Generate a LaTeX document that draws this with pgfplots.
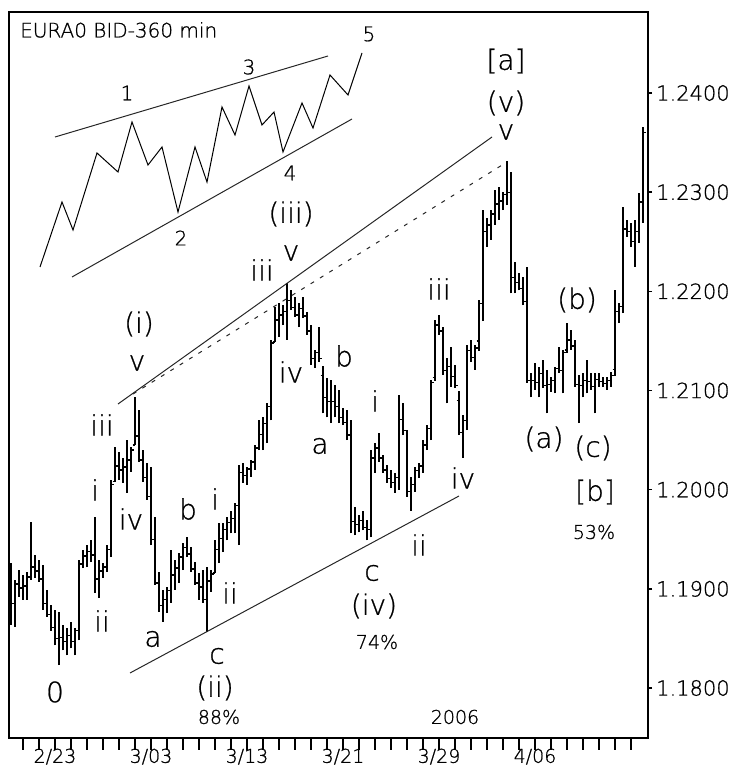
\documentclass[border=0pt]{standalone}
\usepackage{fontspec}
\usepackage{pgfplots}
\pgfplotsset{compat=1.18}
\usepackage{pgfplotstable}
\setmainfont{DejaVu Sans}
\IfFontExistsTF{DejaVu Sans ExtraLight}{\newfontfamily\lab{DejaVu Sans ExtraLight}[FakeBold=0.8]}{\newfontfamily\lab{DejaVu Sans}}
\newcommand\F[1]{\lab\fontsize{#1}{#1}\selectfont}
\pgfdeclareplotmark{otick}{\pgfpathmoveto{\pgfqpoint{-2.5pt}{0pt}}\pgfpathlineto{\pgfqpoint{0pt}{0pt}}\pgfusepathqstroke}
\pgfdeclareplotmark{ctick}{\pgfpathmoveto{\pgfqpoint{0pt}{0pt}}\pgfpathlineto{\pgfqpoint{2.5pt}{0pt}}\pgfusepathqstroke}

\pgfplotstableread{
i o h l c
0 1.1900 1.1926 1.1864 1.1885
1 1.1885 1.1909 1.1862 1.1905
2 1.1905 1.1919 1.1892 1.1901
3 1.1901 1.1914 1.1889 1.1903
4 1.1903 1.1917 1.1889 1.1912
5 1.1912 1.1967 1.1909 1.1922
6 1.1922 1.1934 1.1911 1.1918
7 1.1918 1.1929 1.1907 1.1910
8 1.1910 1.1924 1.1879 1.1885
9 1.1885 1.1899 1.1872 1.1874
10 1.1874 1.1884 1.1858 1.1861
11 1.1861 1.1879 1.1843 1.1850
12 1.1850 1.1877 1.1823 1.1851
13 1.1851 1.1864 1.1838 1.1847
14 1.1847 1.1861 1.1833 1.1853
15 1.1853 1.1867 1.1840 1.1847
16 1.1847 1.1861 1.1833 1.1858
17 1.1858 1.1929 1.1848 1.1925
18 1.1925 1.1939 1.1921 1.1933
19 1.1933 1.1944 1.1922 1.1938
20 1.1938 1.1949 1.1927 1.1934
21 1.1934 1.1972 1.1896 1.1910
22 1.1910 1.1929 1.1891 1.1918
23 1.1918 1.1926 1.1911 1.1922
24 1.1922 1.1944 1.1917 1.1940
25 1.1940 1.2010 1.1932 1.2005
26 1.2008 1.2043 1.2008 1.2024
27 1.2024 1.2038 1.2010 1.2020
28 1.2020 1.2032 1.2007 1.2023
29 1.2023 1.2050 1.1997 1.2030
30 1.2030 1.2043 1.2018 1.2040
31 1.2045 1.2093 1.2045 1.2054
32 1.2054 1.2080 1.2028 1.2030
33 1.2030 1.2040 1.2008 1.2012
34 1.2012 1.2027 1.1990 1.1993
35 1.1993 1.2023 1.1944 1.1950
36 1.1950 1.1972 1.1904 1.1906
37 1.1906 1.1917 1.1877 1.1883
38 1.1883 1.1899 1.1867 1.1889
39 1.1889 1.1902 1.1876 1.1898
40 1.1898 1.1939 1.1886 1.1914
41 1.1914 1.1929 1.1899 1.1921
42 1.1921 1.1936 1.1906 1.1932
43 1.1932 1.1946 1.1919 1.1942
44 1.1942 1.1952 1.1932 1.1935
45 1.1935 1.1942 1.1917 1.1920
46 1.1920 1.1927 1.1904 1.1906
47 1.1906 1.1916 1.1889 1.1902
48 1.1902 1.1919 1.1886 1.1889
49 1.1889 1.1922 1.1856 1.1908
50 1.1908 1.1919 1.1897 1.1915
51 1.1916 1.1949 1.1916 1.1940
52 1.1940 1.1966 1.1926 1.1951
53 1.1951 1.1966 1.1937 1.1960
54 1.1960 1.1972 1.1949 1.1967
55 1.1967 1.1979 1.1956 1.1971
56 1.1971 1.1987 1.1956 1.1984
57 1.1984 1.2025 1.1944 1.2017
58 1.2017 1.2027 1.2007 1.2014
59 1.2014 1.2023 1.2005 1.2021
60 1.2021 1.2030 1.2013 1.2028
61 1.2028 1.2045 1.2020 1.2042
62 1.2042 1.2070 1.2040 1.2056
63 1.2056 1.2073 1.2040 1.2067
64 1.2067 1.2087 1.2047 1.2084
65 1.2084 1.2151 1.2070 1.2148
66 1.2149 1.2184 1.2149 1.2171
67 1.2171 1.2188 1.2154 1.2176
68 1.2176 1.2186 1.2166 1.2180
69 1.2180 1.2208 1.2151 1.2191
70 1.2191 1.2201 1.2181 1.2184
71 1.2184 1.2194 1.2174 1.2176
72 1.2176 1.2188 1.2164 1.2183
73 1.2183 1.2194 1.2173 1.2175
74 1.2175 1.2179 1.2156 1.2160
75 1.2160 1.2166 1.2126 1.2132
76 1.2132 1.2141 1.2123 1.2138
77 1.2138 1.2164 1.2129 1.2132
78 1.2115 1.2125 1.2077 1.2093
79 1.2093 1.2113 1.2073 1.2089
80 1.2089 1.2111 1.2067 1.2089
81 1.2089 1.2106 1.2073 1.2084
82 1.2084 1.2101 1.2067 1.2073
83 1.2073 1.2082 1.2065 1.2068
84 1.2068 1.2080 1.2050 1.2055
85 1.2055 1.2070 1.1956 1.1968
86 1.1968 1.1983 1.1954 1.1965
87 1.1965 1.1974 1.1957 1.1969
88 1.1969 1.1979 1.1959 1.1962
89 1.1962 1.1969 1.1949 1.1960
90 1.1960 1.2040 1.1952 1.2032
91 1.2032 1.2047 1.2017 1.2042
92 1.2042 1.2057 1.2028 1.2032
93 1.2032 1.2035 1.2017 1.2020
94 1.2020 1.2025 1.2007 1.2011
95 1.2011 1.2020 1.2002 1.2007
96 1.2007 1.2017 1.1997 1.2012
97 1.2012 1.2095 1.2000 1.2071
98 1.2071 1.2087 1.2055 1.2060
99 1.2060 1.2060 1.1993 1.1998
100 1.1998 1.2013 1.1979 1.2005
101 1.2005 1.2023 1.1998 1.2019
102 1.2019 1.2027 1.2012 1.2024
103 1.2024 1.2050 1.2017 1.2045
104 1.2045 1.2065 1.2040 1.2062
105 1.2062 1.2111 1.2050 1.2108
106 1.2113 1.2171 1.2110 1.2166
107 1.2166 1.2176 1.2156 1.2160
108 1.2160 1.2164 1.2116 1.2120
109 1.2120 1.2133 1.2087 1.2124
110 1.2124 1.2144 1.2104 1.2114
111 1.2114 1.2126 1.2103 1.2105
112 1.2090 1.2100 1.2055 1.2058
113 1.2058 1.2075 1.2032 1.2070
114 1.2070 1.2146 1.2060 1.2140
115 1.2140 1.2151 1.2129 1.2133
116 1.2133 1.2146 1.2121 1.2143
117 1.2150 1.2191 1.2140 1.2188
118 1.2188 1.2282 1.2170 1.2260
119 1.2260 1.2274 1.2245 1.2267
120 1.2267 1.2282 1.2252 1.2278
121 1.2278 1.2302 1.2267 1.2288
122 1.2288 1.2305 1.2272 1.2291
123 1.2291 1.2300 1.2282 1.2298
124 1.2298 1.2331 1.2287 1.2300
125 1.2300 1.2320 1.2198 1.2214
126 1.2214 1.2230 1.2198 1.2209
127 1.2209 1.2218 1.2201 1.2203
128 1.2203 1.2214 1.2186 1.2190
129 1.2190 1.2225 1.2108 1.2110
130 1.2110 1.2118 1.2093 1.2110
131 1.2110 1.2128 1.2101 1.2108
132 1.2108 1.2124 1.2093 1.2117
133 1.2117 1.2131 1.2103 1.2105
134 1.2105 1.2121 1.2077 1.2106
135 1.2106 1.2114 1.2099 1.2110
136 1.2110 1.2124 1.2097 1.2122
137 1.2122 1.2144 1.2118 1.2120
138 1.2120 1.2141 1.2097 1.2138
139 1.2141 1.2168 1.2138 1.2151
140 1.2151 1.2161 1.2141 1.2145
141 1.2145 1.2151 1.2104 1.2106
142 1.2106 1.2116 1.2067 1.2105
143 1.2105 1.2118 1.2093 1.2110
144 1.2110 1.2131 1.2097 1.2109
145 1.2109 1.2118 1.2101 1.2104
146 1.2104 1.2118 1.2077 1.2111
147 1.2111 1.2118 1.2104 1.2109
148 1.2109 1.2114 1.2104 1.2107
149 1.2107 1.2114 1.2101 1.2110
150 1.2110 1.2119 1.2104 1.2115
151 1.2121 1.2201 1.2115 1.2180
152 1.2180 1.2188 1.2168 1.2185
153 1.2185 1.2285 1.2178 1.2263
154 1.2263 1.2272 1.2255 1.2260
155 1.2260 1.2269 1.2245 1.2250
156 1.2250 1.2272 1.2225 1.2260
157 1.2260 1.2299 1.2249 1.2290
158 1.2290 1.2366 1.2269 1.2360
}\bars

\begin{document}
\begin{tikzpicture}
\path[use as bounding box] (0,0) rectangle (738pt,769pt);
% main price axis with bars and date ticks
\begin{axis}[
  at={(9pt,31pt)}, anchor=south west, scale only axis,
  width=639pt, height=726pt,
  xmin=-0.5, xmax=159.25, ymin=1.17496, ymax=1.24817,
  axis line style={line width=2pt, black},
  xtick={3,7,...,155}, xticklabels={},
  extra x ticks={11,35,59,83,107,131},
  extra x tick labels={2/23,3/03,3/13,3/21,3/29,4/06},
  xtick pos=left, ytick=\empty,
  tick align=outside, major tick length=12pt,
  xtick style={line width=1.5pt, black},
  extra x tick style={xtick style={line width=1.5pt, black}},
  xticklabel style={font=\F{19}, inner sep=0pt, yshift=1.5pt},
]
\addplot[draw=none, mark=none, forget plot,
  error bars/.cd, y dir=plus, y explicit, error mark=none,
  error bar style={draw=black, line width=1.3pt, solid}]
  table[x=i, y=l, y error expr=\thisrow{h}-\thisrow{l}] {\bars};
\addplot[draw=none, mark=otick, mark options={draw=black, line width=1.3pt, solid}] table[x=i, y=o] {\bars};
\addplot[draw=none, mark=ctick, mark options={draw=black, line width=1.3pt, solid}] table[x=i, y=c] {\bars};
\end{axis}
% price scale on the right
\begin{axis}[
  at={(9pt,31pt)}, anchor=south west, scale only axis,
  width=639pt, height=726pt,
  xmin=-0.5, xmax=159.25, ymin=1.17496, ymax=1.24817,
  axis x line=none, axis y line*=right,
  y axis line style={draw=none},
  ytick={1.18,1.19,1.20,1.21,1.22,1.23,1.24},
  yticklabels={1.1800,1.1900,1.2000,1.2100,1.2200,1.2300,1.2400},
  tick align=outside, major tick length=4pt,
  ytick style={line width=1.5pt, black},
  yticklabel style={font=\F{21}, inner sep=0pt, xshift=4pt},
]
\end{axis}
% annotations in picture coordinates
\begin{axis}[
  at={(9pt,31pt)}, anchor=south west, scale only axis,
  width=639pt, height=726pt,
  xmin=9, xmax=648, ymin=-738, ymax=-12,
  hide axis, clip=false,
]
\addplot[black!85, line width=1pt] coordinates {(118,-404) (492,-137)};
\addplot[black!85, line width=1pt, dash pattern=on 4pt off 7pt] coordinates {(133,-394) (507,-162)};
\addplot[black!85, line width=1pt] coordinates {(130,-673) (459,-496)};
\addplot[black!85, line width=1pt] coordinates {(55,-137) (328,-56)};
\addplot[black!85, line width=1pt] coordinates {(72,-277) (352,-119)};
\addplot[black, line width=1pt] coordinates {(40,-267) (62,-202) (73,-230) (97,-153) (118,-172) (132,-122) (148,-165) (162,-147) (178,-212) (195,-147) (207,-182) (222,-107) (235,-135) (249,-86) (262,-125) (274,-112) (283,-152) (302,-103) (313,-128) (330,-75) (348,-95) (362,-53)};
\node[font=\F{20}, inner sep=0, anchor=west] at (axis cs:20,-30) {EURA0 BID-360 min};
\begin{scope}[every node/.style={font=\F{20}, inner sep=0}]
\node at (axis cs:127,-93) {1};
\node at (axis cs:181,-238) {2};
\node at (axis cs:249,-67) {3};
\node at (axis cs:290,-173) {4};
\node at (axis cs:369,-34) {5};
\end{scope}
\begin{scope}[every node/.style={font=\F{28}, inner sep=0}]
\node at (axis cs:139,-324) {(i)};
\node at (axis cs:137,-363) {v};
\node at (axis cs:102,-425) {iii};
\node at (axis cs:95,-490) {i};
\node at (axis cs:131,-519) {iv};
\node at (axis cs:188,-509) {b};
\node at (axis cs:215,-499) {i};
\node at (axis cs:102,-621) {ii};
\node at (axis cs:55,-692) {0};
\node at (axis cs:153,-639) {a};
\node at (axis cs:230,-593) {ii};
\node at (axis cs:217,-656) {c};
\node at (axis cs:215,-688) {(ii)};
\node at (axis cs:291,-214) {(iii)};
\node at (axis cs:291,-253) {v};
\node at (axis cs:262,-270) {iii};
\node at (axis cs:291,-372) {iv};
\node at (axis cs:344,-356) {b};
\node at (axis cs:320,-446) {a};
\node at (axis cs:375,-401) {i};
\node at (axis cs:439,-289) {iii};
\node at (axis cs:463,-478) {iv};
\node at (axis cs:419,-545) {ii};
\node at (axis cs:372,-573) {c};
\node at (axis cs:374,-606) {(iv)};
\node at (axis cs:506,-61) {[a]};
\node at (axis cs:506,-103) {(v)};
\node at (axis cs:506,-132) {v};
\node at (axis cs:577,-300) {(b)};
\node at (axis cs:544,-439) {(a)};
\node at (axis cs:593,-448) {(c)};
\node at (axis cs:595,-492) {[b]};
\end{scope}
\begin{scope}[every node/.style={font=\F{19}, inner sep=0}]
\node at (axis cs:219,-717) {88\%};
\node at (axis cs:377,-642) {74\%};
\node at (axis cs:594,-532) {53\%};
\node at (axis cs:455,-717) {2006};
\end{scope}
\end{axis}
\end{tikzpicture}
\end{document}
